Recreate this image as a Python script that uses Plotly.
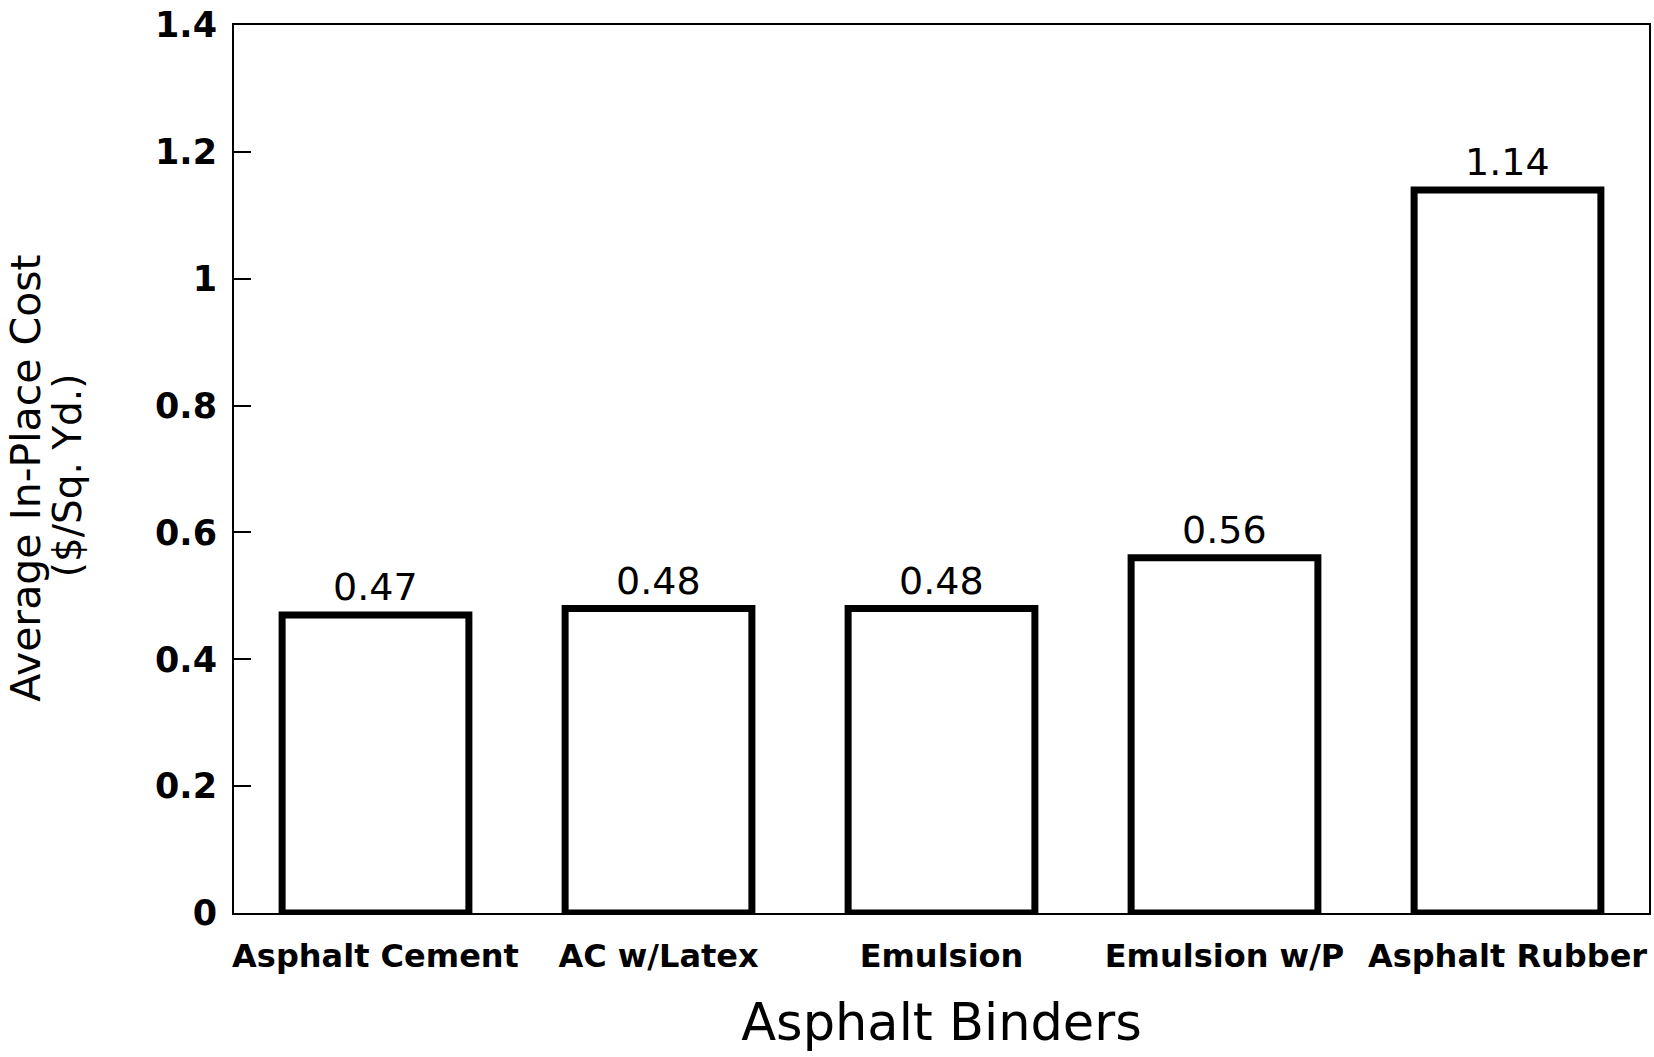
import plotly.graph_objects as go

# values
binders = ["Asphalt Cement", "AC w/Latex", "Emulsion", "Emulsion w/P", "Asphalt Rubber"]
avg_cost = [0.47, 0.48, 0.48, 0.56, 1.14]
cost_labels = ["0.47", "0.48", "0.48", "0.56", "1.14"]
y_ticks = [0, 0.2, 0.4, 0.6, 0.8, 1, 1.2, 1.4]
y_tick_text = ["0", "0.2", "0.4", "0.6", "0.8", "1", "1.2", "1.4"]

FONT = "DejaVu Sans"

fig = go.Figure(
    go.Bar(
        x=binders,
        y=avg_cost,
        marker=dict(color="white", line=dict(color="black", width=7)),
        showlegend=False,
    )
)

# value labels above the bars
for name, val, lab in zip(binders, avg_cost, cost_labels):
    fig.add_annotation(
        x=name, y=val, text=lab, showarrow=False,
        yanchor="middle", yshift=28,
        font=dict(family=FONT, size=38, color="black"),
    )

# two-line y title, set by hand for the tight line spacing
fig.add_annotation(
    x=0, y=0.489, xref="paper", yref="paper", xanchor="center", yanchor="middle",
    xshift=-208, textangle=-90, showarrow=False, text="Average In-Place Cost",
    font=dict(family=FONT, size=41, color="black"),
)
fig.add_annotation(
    x=0, y=0.493, xref="paper", yref="paper", xanchor="center", yanchor="middle",
    xshift=-167, textangle=-90, showarrow=False, text="($/Sq. Yd.)",
    font=dict(family=FONT, size=39, color="black"),
)

fig.update_layout(
    width=1654,
    height=1057,
    paper_bgcolor="white",
    plot_bgcolor="white",
    margin=dict(l=234, r=5, t=25, b=144, autoexpand=False),
    bargap=0.34,
    font=dict(family=FONT, color="black"),
)
fig.update_xaxes(
    showline=True, linecolor="black", linewidth=2, mirror=True,
    showgrid=False, ticks="", ticklabelstandoff=14,
    tickfont=dict(family=FONT, size=32, weight="bold"),
    title=dict(text="Asphalt Binders", font=dict(family=FONT, size=51), standoff=30),
)
fig.update_yaxes(
    range=[0, 1.4], tickvals=y_ticks, ticktext=y_tick_text,
    showline=True, linecolor="black", linewidth=2, mirror=True,
    showgrid=False, zeroline=False, ticks="inside", ticklen=17, tickwidth=2,
    tickcolor="black", ticklabelstandoff=8,
    tickfont=dict(family=FONT, size=35, weight="bold"),
)

# page body has a default 8px margin; drop it so the figure fills the window
fig.write_html(
    "out.html",
    config={"displayModeBar": False},
    post_script="document.body.style.margin='0px';",
)
